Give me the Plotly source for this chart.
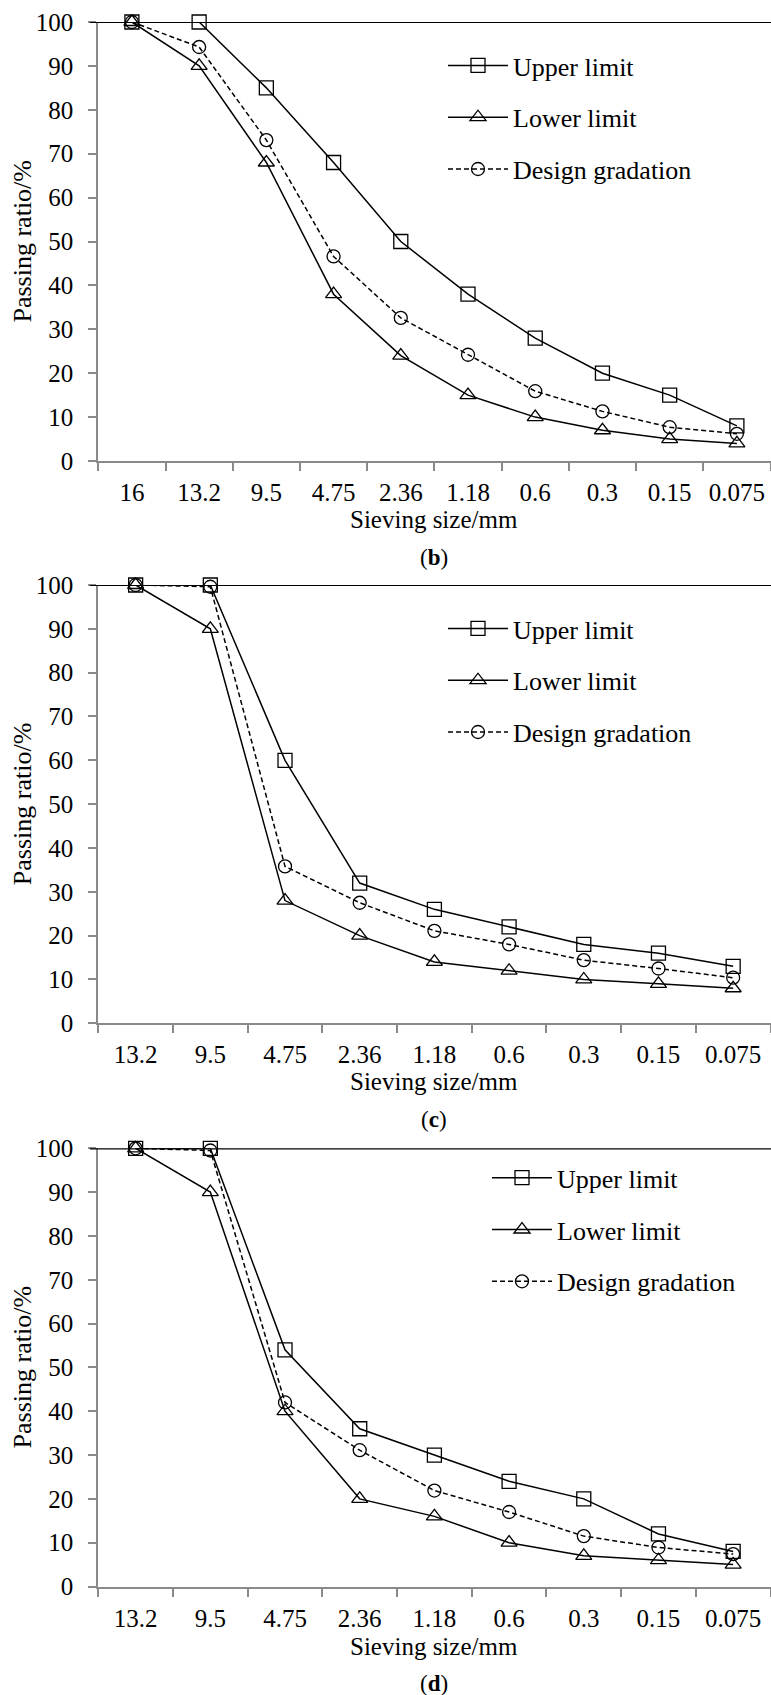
import plotly.graph_objects as go

# ---------------- data ----------------
sizes_b = ["16", "13.2", "9.5", "4.75", "2.36", "1.18", "0.6", "0.3", "0.15", "0.075"]
upper_b = [100, 100, 85, 68, 50, 38, 28, 20, 15, 8]
lower_b = [100, 90, 68, 38, 24, 15, 10, 7, 5, 4]
design_b = [100, 94.3, 73.1, 46.6, 32.6, 24.2, 15.9, 11.3, 7.7, 6.2]

sizes_c = ["13.2", "9.5", "4.75", "2.36", "1.18", "0.6", "0.3", "0.15", "0.075"]
upper_c = [100, 100, 60, 32, 26, 22, 18, 16, 13]
lower_c = [100, 90, 28, 20, 14, 12, 10, 9, 8]
design_c = [100, 99.6, 35.8, 27.5, 21.1, 18.0, 14.4, 12.5, 10.4]

sizes_d = ["13.2", "9.5", "4.75", "2.36", "1.18", "0.6", "0.3", "0.15", "0.075"]
upper_d = [100, 100, 54, 36, 30, 24, 20, 12, 8]
lower_d = [100, 90, 40, 20, 16, 10, 7, 6, 5]
design_d = [100, 99.5, 42.0, 31.1, 21.9, 17.0, 11.5, 8.9, 7.4]

panel_labels = ["b", "c", "d"]
y_ticks = [0, 10, 20, 30, 40, 50, 60, 70, 80, 90, 100]

# ---------------- layout constants ----------------
W, H = 771, 1695
FONT = "Liberation Serif, Times New Roman, serif"
GREY = "#8a8a8a"
# pixel positions (top of plot area, bottom of plot area)
panels_px = [(22, 461), (585, 1023.3), (1148.3, 1586.5)]
title_px = [519, 1081.5, 1646]
label_px = [557, 1119, 1683]
x_left_px, x_right_px = 98.3, 770.5
legend_px = [(443, 22 + 20), (443, 585 + 20), (487, 1148.3 + 6)]


def py(px):
    return 1 - px / H


def px_x(px):
    return px / W


fig = go.Figure()

datasets = [
    (sizes_b, upper_b, lower_b, design_b),
    (sizes_c, upper_c, lower_c, design_c),
    (sizes_d, upper_d, lower_d, design_d),
]

for i, (cats, up, lo, de) in enumerate(datasets):
    ax = "" if i == 0 else str(i + 1)
    leg = "legend" if i == 0 else f"legend{i + 1}"
    common = dict(xaxis="x" + ax, yaxis="y" + ax, mode="lines+markers",
                  cliponaxis=False, legend=leg)
    fig.add_trace(go.Scatter(
        x=cats, y=up, name="Upper limit", legendgroup=f"u{i}",
        line=dict(color="black", width=1.5),
        marker=dict(symbol="square-open", size=14, color="black", line=dict(width=1.3)),
        **common))
    fig.add_trace(go.Scatter(
        x=cats, y=lo, name="Lower limit", legendgroup=f"l{i}",
        line=dict(color="black", width=1.5),
        marker=dict(symbol="triangle-up-open", size=14, color="black", line=dict(width=1.3)),
        **common))
    fig.add_trace(go.Scatter(
        x=cats, y=de, name="Design gradation", legendgroup=f"d{i}",
        line=dict(color="black", width=1.5, dash="5px,3px"),
        marker=dict(symbol="circle-open", size=13, color="black", line=dict(width=1.3)),
        **common))

layout = dict(
    template="none",
    width=W, height=H,
    margin=dict(l=0, r=0, t=0, b=0, autoexpand=False),
    paper_bgcolor="white", plot_bgcolor="white",
    font=dict(family=FONT, color="black", size=25),
    showlegend=True,
)

shapes = []
annotations = []
for i, (top, bot) in enumerate(panels_px):
    ax = "" if i == 0 else str(i + 1)
    cats = datasets[i][0]
    layout["xaxis" + ax] = dict(
        domain=[px_x(x_left_px), px_x(x_right_px)],
        anchor="y" + ax,
        type="category",
        categoryorder="array", categoryarray=cats,
        range=[-0.5, len(cats) - 0.5],
        tickson="boundaries",
        ticks="outside", ticklen=8, tickwidth=1.5, tickcolor=GREY,
        showline=True, linecolor=GREY, linewidth=2,
        showgrid=False, zeroline=False, automargin=False,
        tickfont=dict(family=FONT, size=25, color="black"),
        ticklabelstandoff=8,
    )
    layout["yaxis" + ax] = dict(
        domain=[py(bot), py(top)],
        anchor="x" + ax,
        range=[0, 100],
        tickvals=y_ticks,
        ticks="outside", ticklen=8, tickwidth=1.5, tickcolor=GREY,
        showline=True, linecolor=GREY, linewidth=2, mirror=True,
        showgrid=False, zeroline=False, automargin=False,
        tickfont=dict(family=FONT, size=25, color="black"),
        ticklabelstandoff=10,
    )
    leg = "legend" if i == 0 else f"legend{i + 1}"
    lx, ly = legend_px[i]
    layout[leg] = dict(
        x=px_x(lx), y=py(ly), xanchor="left", yanchor="top",
        xref="paper", yref="paper",
        bgcolor="rgba(0,0,0,0)", borderwidth=0,
        font=dict(family=FONT, size=26, color="black"),
        itemwidth=60, tracegroupgap=15,
    )
    # black line at 100%
    shapes.append(dict(type="line", xref="paper", yref="y" + ax,
                       x0=px_x(90), x1=1, y0=100, y1=100,
                       line=dict(color="black", width=2.2), layer="above"))
    mid_x = px_x((x_left_px + x_right_px) / 2)
    annotations.append(dict(text="Sieving size/mm", xref="paper", yref="paper",
                            x=mid_x, y=py(title_px[i]), showarrow=False,
                            xanchor="center", yanchor="middle",
                            font=dict(family=FONT, size=25, color="black")))
    annotations.append(dict(text="Passing ratio/%", xref="paper", yref="paper",
                            x=px_x(22), y=py((top + bot) / 2), textangle=-90,
                            showarrow=False, xanchor="center", yanchor="middle",
                            font=dict(family=FONT, size=26, color="black")))
    annotations.append(dict(text=f"(<b>{panel_labels[i]}</b>)", xref="paper", yref="paper",
                            x=mid_x, y=py(label_px[i]), showarrow=False,
                            xanchor="center", yanchor="middle",
                            font=dict(family=FONT, size=23, color="black")))

layout["shapes"] = shapes
layout["annotations"] = annotations
fig.update_layout(**layout)

fig.write_html("out.html")
